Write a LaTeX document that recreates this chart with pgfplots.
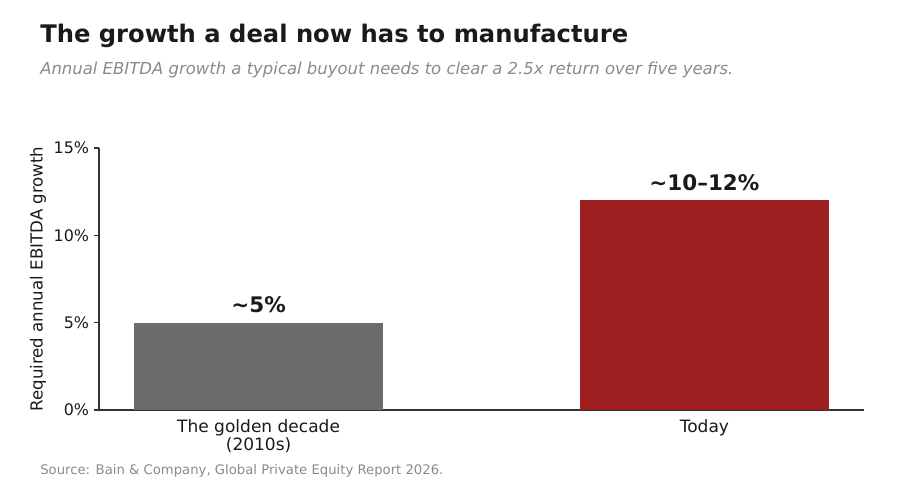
\documentclass[border=0pt]{standalone}
\usepackage{fontspec}
\setmainfont{DejaVu Sans}
\usepackage{pgfplots}
\pgfplotsset{compat=1.18}
\definecolor{grayBar}{HTML}{6B6B6B}
\definecolor{redBar}{HTML}{9E1F20}
\definecolor{txt}{HTML}{1A1A1A}
\definecolor{subtxt}{HTML}{8A8A8A}
\definecolor{axisc}{HTML}{333333}
\begin{document}
\begin{tikzpicture}[x=1in,y=1in]
\path[use as bounding box] (0,0) rectangle (9,4.95);
\node[anchor=base west, inner sep=0, text=txt, font=\fontsize{17.5}{21}\selectfont\bfseries] at (0.40,4.52) {The growth a deal now has to manufacture};
\node[anchor=base west, inner sep=0, text=subtxt, font=\fontsize{11.9}{15}\selectfont\itshape] at (0.40,4.20) {Annual EBITDA growth a typical buyout needs to clear a 2.5x return over five years.};
\node[anchor=base west, inner sep=0, text=subtxt, font=\fontsize{9.55}{12}\selectfont] at (0.40,0.20) {Source: Bain \& Company, Global Private Equity Report 2026.};
\begin{axis}[
  at={(0.99in,0.85in)}, anchor=south west,
  width=7.65in, height=2.62in, scale only axis,
  xmin=-0.358, xmax=1.358, ymin=0, ymax=15,
  axis x line*=bottom, axis y line*=left,
  axis line style={axisc, line width=1.2pt},
  ytick={0,5,10,15}, yticklabels={0\%,5\%,10\%,15\%},
  xtick={0,1}, xticklabels={The golden decade\\(2010s),Today},
  xtick style={draw=none},
  ytick style={axisc, line width=0.9pt},
  tick align=outside, major tick length=0.05in,
  ticklabel style={font=\fontsize{11.5}{13.5}\selectfont, text=txt},
  xticklabel style={align=center, font=\fontsize{12.3}{13}\selectfont},
  /pgf/number format/assume math mode=true,
  ylabel={Required annual EBITDA growth},
  ylabel style={at={(axis description cs:-0.0797,0.5)}, anchor=center, font=\fontsize{12}{14}\selectfont, text=txt},
  ybar, bar width=0.56,
  nodes near coords, point meta=explicit symbolic,
  nodes near coords style={anchor=base, yshift=0.10in, font=\fontsize{15.5}{18}\selectfont\bfseries, text=txt},
]
\addplot[fill=grayBar, draw=none, bar shift=0pt] coordinates {(0,5) [{\textasciitilde}5\%]};
\addplot[fill=redBar, draw=none, bar shift=0pt] coordinates {(1,12) [{\textasciitilde}10–12\%]};
\end{axis}
\end{tikzpicture}
\end{document}
